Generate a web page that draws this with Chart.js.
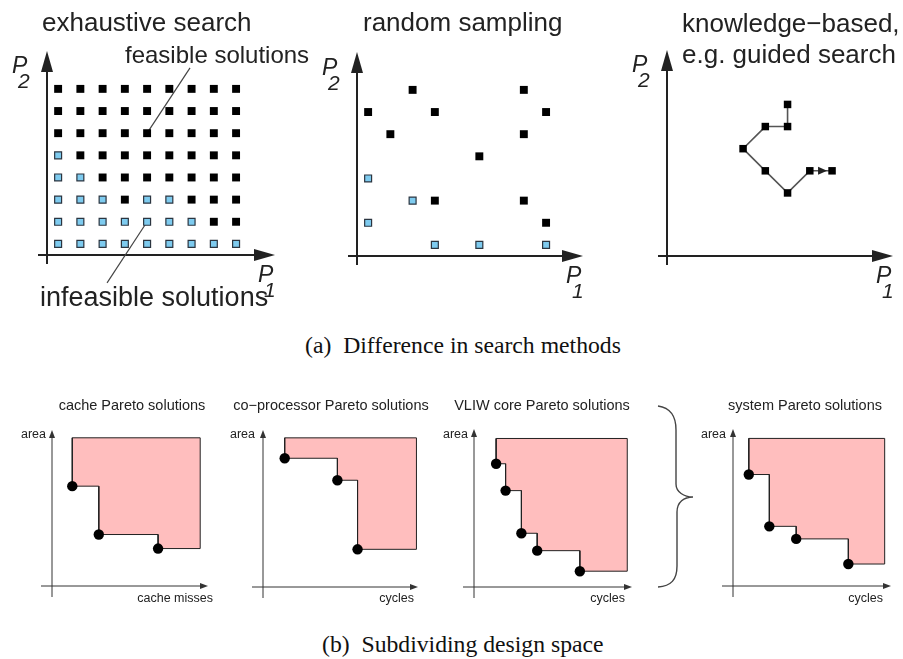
<!DOCTYPE html>
<html>
<head>
<meta charset="utf-8">
<script src="https://cdn.jsdelivr.net/npm/chart.js@4.4.1/dist/chart.umd.min.js"></script>
<style>
body { margin: 0; background: #fff; width: 903px; height: 659px; position: relative; overflow: hidden; }
canvas { position: absolute; }
.cap { position: absolute; font-family: "Liberation Serif", "Times New Roman", serif; font-size: 23.7px; line-height: 24px; white-space: pre; color: #111; }
</style>
</head>
<body>
<canvas id="exhaustive"></canvas>
<canvas id="random"></canvas>
<canvas id="guided"></canvas>
<canvas id="cache"></canvas>
<canvas id="coproc"></canvas>
<canvas id="vliw"></canvas>
<canvas id="system"></canvas>
<div class="cap" style="left:305px;top:333px">(a)  Difference in search methods</div>
<div class="cap" style="left:322px;top:632px">(b)  Subdividing design space</div>
<script>
// ---- top row: design points on a 9 x 8 grid (P1 column, P2 row; row 1 = bottom)
const gridCols = [1, 2, 3, 4, 5, 6, 7, 8, 9];
const gridRows = [1, 2, 3, 4, 5, 6, 7, 8];
// exhaustive search: infeasible columns per row (index 0 = row 1)
const infeasibleCols = [
    [1, 2, 3, 4, 5, 6, 7, 8, 9],
    [1, 2, 3, 4, 5, 6, 7],
    [1, 2, 3, 5, 6],
    [1, 2],
    [1],
    [], [], []
];
// random sampling: [P1, P2]
const randomFeasible = [[3, 8], [8, 8], [1, 7], [4, 7], [9, 7], [2, 6], [8, 6], [6, 5], [4, 3], [8, 3], [9, 2]];
const randomInfeasible = [[1, 4], [3, 3], [1, 2], [4, 1], [6, 1], [9, 1]];
// guided search path, in visiting order
const guidedP1 = [6, 6, 5, 4, 5, 6, 7, 8];
const guidedP2 = [7, 6, 6, 5, 4, 3, 4, 4];

// ---- bottom row: Pareto points (x = misses / cycles, y = area) and region bounds [right, top]
const cacheMisses = [1.3, 3.0, 6.8];
const cacheArea = [6.4, 3.3, 2.4];
const cacheBound = [9.5, 9.5];
const coprocCycles = [1.4, 4.8, 6.1];
const coprocArea = [8.2, 6.8, 2.4];
const coprocBound = [9.9, 9.5];
const vliwCycles = [1.4, 2.0, 3.0, 4.0, 6.7];
const vliwArea = [7.8, 6.1, 3.4, 2.3, 1.0];
const vliwBound = [9.7, 9.4];
const systemCycles = [1.0, 2.3, 4.0, 7.3];
const systemArea = [7.1, 3.8, 3.0, 1.4];
const systemBound = [9.6, 9.4];

const SANS = '"Liberation Sans", Arial, Helvetica, sans-serif';

function toPoints(pairs) {
    return pairs.map(p => ({x: p[0], y: p[1]}));
}

// corners of the dominated region: down to each point, across to the next one
function staircase(xs, ys, bound) {
    const [right, top] = bound;
    const pts = [{x: xs[0], y: top}];
    xs.forEach((x, i) => {
        if (i > 0) pts.push({x: x, y: ys[i - 1]});
        pts.push({x: x, y: ys[i]});
    });
    pts.push({x: right, y: ys[ys.length - 1]});
    pts.push({x: right, y: top});
    pts.push({x: xs[0], y: top});
    return pts;
}

const feasibleStyle = {
    showLine: false, pointStyle: 'rect', pointRadius: 5.6,
    pointBackgroundColor: '#000', pointBorderColor: '#000', pointBorderWidth: 0
};
const infeasibleStyle = {
    showLine: false, pointStyle: 'rect', pointRadius: 4.9,
    pointBackgroundColor: '#7ecbef', pointBorderColor: '#2b3540', pointBorderWidth: 1.2
};

function arrowHead(ctx, x, y, dir, len, half) {
    ctx.beginPath();
    if (dir === 'up') {
        ctx.moveTo(x, y);
        ctx.lineTo(x - half, y + len);
        ctx.lineTo(x + half, y + len);
    } else {
        ctx.moveTo(x, y);
        ctx.lineTo(x - len, y - half);
        ctx.lineTo(x - len, y + half);
    }
    ctx.closePath();
    ctx.fill();
}

function decor(box, cfg) {
    return {
        id: 'decor',
        beforeDatasetsDraw(chart) {
            const ctx = chart.ctx;
            const a = chart.chartArea;
            const sx = chart.scales.x, sy = chart.scales.y;
            ctx.save();
            ctx.strokeStyle = cfg.axisColor;
            ctx.fillStyle = cfg.axisColor;
            ctx.lineWidth = cfg.axisWidth;
            ctx.beginPath();
            ctx.moveTo(a.left, a.bottom + cfg.overhang);
            ctx.lineTo(a.left, a.top + cfg.head[0] * 0.6);
            ctx.moveTo(a.left - cfg.overhang, a.bottom);
            ctx.lineTo(a.right - cfg.head[0] * 0.6, a.bottom);
            ctx.stroke();
            arrowHead(ctx, a.left, a.top, 'up', cfg.head[0], cfg.head[1]);
            arrowHead(ctx, a.right, a.bottom, 'right', cfg.head[0], cfg.head[1]);

            (cfg.leaders || []).forEach(l => {
                ctx.strokeStyle = '#444';
                ctx.lineWidth = 1.2;
                ctx.beginPath();
                ctx.moveTo(sx.getPixelForValue(l.from[0]), sy.getPixelForValue(l.from[1]));
                ctx.lineTo(sx.getPixelForValue(l.to[0]), sy.getPixelForValue(l.to[1]));
                ctx.stroke();
            });

            if (cfg.brace) {
                const b = cfg.brace.map(p => [p[0] - box.x, p[1] - box.y]);
                ctx.strokeStyle = '#444';
                ctx.lineWidth = 1.4;
                ctx.beginPath();
                ctx.moveTo(b[0][0], b[0][1]);
                for (let i = 1; i < b.length; i += 3) {
                    ctx.bezierCurveTo(b[i][0], b[i][1], b[i + 1][0], b[i + 1][1], b[i + 2][0], b[i + 2][1]);
                }
                ctx.stroke();
            }
            ctx.restore();
        },
        afterDatasetsDraw(chart) {
            const ctx = chart.ctx;
            const sx = chart.scales.x, sy = chart.scales.y;
            ctx.save();
            if (cfg.pathArrow) {
                // arrowhead on the last step of the search path
                const q = cfg.pathArrow;
                const x = sx.getPixelForValue(q[0]) - 5;
                const y = sy.getPixelForValue(q[1]);
                ctx.fillStyle = '#222';
                arrowHead(ctx, x, y, 'right', 9, 4);
            }
            (cfg.texts || []).forEach(t => {
                ctx.font = t.font;
                ctx.fillStyle = t.color || '#222';
                ctx.textAlign = t.align || 'left';
                ctx.textBaseline = 'alphabetic';
                ctx.fillText(t.text, t.x - box.x, t.y - box.y);
            });
            ctx.restore();
        }
    };
}

function makeChart(id, box, area, xr, yr, datasets, cfg) {
    const cv = document.getElementById(id);
    cv.width = box.w;
    cv.height = box.h;
    cv.style.left = box.x + 'px';
    cv.style.top = box.y + 'px';
    return new Chart(cv, {
        type: 'scatter',
        data: {datasets: datasets},
        options: {
            responsive: false,
            animation: false,
            events: [],
            layout: {
                padding: {
                    left: area.l - box.x,
                    right: box.x + box.w - area.r,
                    top: area.t - box.y,
                    bottom: box.y + box.h - area.b
                }
            },
            scales: {
                x: {type: 'linear', display: false, min: xr[0], max: xr[1]},
                y: {type: 'linear', display: false, min: yr[0], max: yr[1]}
            },
            plugins: {legend: {display: false}, tooltip: {enabled: false}}
        },
        plugins: [decor(box, cfg)]
    });
}

const topAxis = {axisColor: '#222', axisWidth: 2, head: [21, 6], overhang: 9};
const lowAxis = {axisColor: '#333', axisWidth: 1, head: [8, 3], overhang: 11};
const bigFont = '26px ' + SANS;
const pFont = 'italic 23px ' + SANS;
const subFont = 'italic 21px ' + SANS;
const titleFont = '14.5px ' + SANS;
const axFont = '12.5px ' + SANS;

function pLabel(sub, x, y) {
    return [
        {text: 'P', x: x, y: y, font: pFont},
        {text: sub, x: x + 6, y: y + 15, font: subFont}
    ];
}

// ---- (a) exhaustive search
const exFeasible = [], exInfeasible = [];
gridRows.forEach((r, i) => {
    gridCols.forEach(c => {
        (infeasibleCols[i].includes(c) ? exInfeasible : exFeasible).push({x: c, y: r});
    });
});

makeChart('exhaustive', {x: 0, y: 0, w: 310, h: 320}, {l: 47, r: 275, t: 51, b: 255},
    [0.5, 10.75], [0.5, 9.71],
    [
        Object.assign({data: exFeasible}, feasibleStyle),
        Object.assign({data: exInfeasible}, infeasibleStyle)
    ],
    Object.assign({}, topAxis, {
        leaders: [
            {from: [5, 6], to: [6.93, 8.95]},
            {from: [5, 2], to: [3.2, -0.76]}
        ],
        texts: [
            {text: 'exhaustive search', x: 42, y: 31, font: bigFont},
            {text: 'feasible solutions', x: 125, y: 63, font: '24px ' + SANS},
            {text: 'infeasible solutions', x: 40, y: 306, font: '27px ' + SANS}
        ].concat(pLabel('2', 12, 73), pLabel('1', 258, 282))
    }));

// ---- random sampling
makeChart('random', {x: 310, y: 0, w: 300, h: 320}, {l: 357, r: 583, t: 52, b: 256},
    [0.5, 10.66], [0.5, 9.71],
    [
        Object.assign({data: toPoints(randomFeasible)}, feasibleStyle),
        Object.assign({data: toPoints(randomInfeasible)}, infeasibleStyle)
    ],
    Object.assign({}, topAxis, {
        texts: [
            {text: 'random sampling', x: 363, y: 31, font: bigFont}
        ].concat(pLabel('2', 322, 75), pLabel('1', 566, 283))
    }));

// ---- guided search
const guidedPath = guidedP1.map((x, i) => ({x: x, y: guidedP2[i]}));
makeChart('guided', {x: 610, y: 0, w: 293, h: 320}, {l: 667, r: 893, t: 50, b: 256},
    [0.58, 10.74], [0.15, 9.46],
    [
        {
            data: guidedPath, showLine: true, borderColor: '#555', borderWidth: 1.6,
            pointStyle: 'rect', pointRadius: 5.3, pointBackgroundColor: '#000',
            pointBorderColor: '#000', pointBorderWidth: 0, clip: false
        }
    ],
    Object.assign({}, topAxis, {
        pathArrow: [guidedP1[guidedP1.length - 1], guidedP2[guidedP2.length - 1]],
        texts: [
            {text: 'knowledge\u2212based,', x: 682, y: 32, font: bigFont},
            {text: 'e.g. guided search', x: 682, y: 63, font: bigFont}
        ].concat(pLabel('2', 632, 72), pLabel('1', 876, 283))
    }));

// ---- (b) Pareto charts
function paretoSets(xs, ys, bound) {
    return [
        {
            data: xs.map((x, i) => ({x: x, y: ys[i]})), showLine: false,
            pointRadius: 5.2, pointBackgroundColor: '#000', pointBorderColor: '#000', pointBorderWidth: 0, clip: false
        },
        {
            data: staircase(xs, ys, bound), showLine: true, fill: 'shape',
            backgroundColor: '#ffbebe', borderColor: '#222', borderWidth: 1, pointRadius: 0, clip: false
        }
    ];
}

makeChart('cache', {x: 0, y: 390, w: 225, h: 230}, {l: 52, r: 208, t: 430, b: 586},
    [0, 10], [0, 10], paretoSets(cacheMisses, cacheArea, cacheBound),
    Object.assign({}, lowAxis, {
        texts: [
            {text: 'cache Pareto solutions', x: 132, y: 410, font: titleFont, align: 'center'},
            {text: 'area', x: 46, y: 438, font: axFont, align: 'right'},
            {text: 'cache misses', x: 213, y: 602, font: axFont, align: 'right'}
        ]
    }));

makeChart('coproc', {x: 225, y: 390, w: 210, h: 230}, {l: 263, r: 418, t: 430, b: 587},
    [0, 10], [0, 10], paretoSets(coprocCycles, coprocArea, coprocBound),
    Object.assign({}, lowAxis, {
        texts: [
            {text: 'co\u2212processor Pareto solutions', x: 331, y: 410, font: titleFont, align: 'center'},
            {text: 'area', x: 255, y: 438, font: axFont, align: 'right'},
            {text: 'cycles', x: 414, y: 602, font: axFont, align: 'right'}
        ]
    }));

makeChart('vliw', {x: 435, y: 390, w: 210, h: 230}, {l: 474, r: 632, t: 429, b: 587},
    [0, 10], [0, 10], paretoSets(vliwCycles, vliwArea, vliwBound),
    Object.assign({}, lowAxis, {
        texts: [
            {text: 'VLIW core Pareto solutions', x: 542, y: 410, font: titleFont, align: 'center'},
            {text: 'area', x: 468, y: 438, font: axFont, align: 'right'},
            {text: 'cycles', x: 625, y: 602, font: axFont, align: 'right'}
        ]
    }));

makeChart('system', {x: 645, y: 390, w: 258, h: 230}, {l: 733, r: 891, t: 429, b: 586},
    [0, 10], [0, 10], paretoSets(systemCycles, systemArea, systemBound),
    Object.assign({}, lowAxis, {
        brace: [
            [658, 406], [671, 408], [676, 416], [676, 430],
            [676, 460], [676, 470], [676, 484],
            [676, 492], [684, 497], [693, 497],
            [684, 497], [677, 502], [677, 512],
            [677, 540], [677, 552], [677, 566],
            [677, 580], [671, 586], [658, 587]
        ],
        texts: [
            {text: 'system Pareto solutions', x: 805, y: 410, font: titleFont, align: 'center'},
            {text: 'area', x: 726, y: 438, font: axFont, align: 'right'},
            {text: 'cycles', x: 883, y: 602, font: axFont, align: 'right'}
        ]
    }));
</script>
</body>
</html>
